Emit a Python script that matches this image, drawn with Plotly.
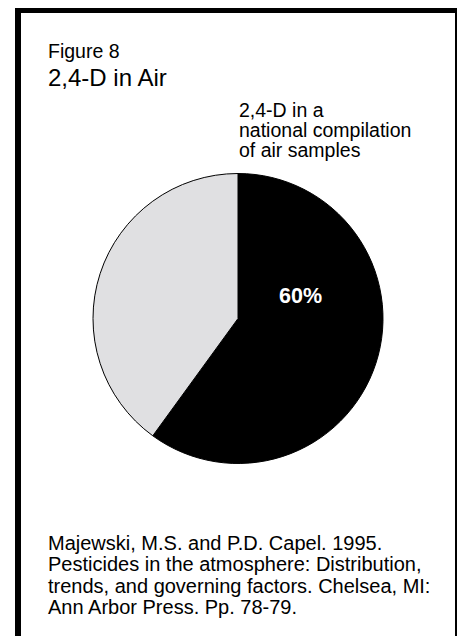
import plotly.graph_objects as go

# Share of air samples with 2,4-D detected
labels = ["2,4-D detected", "Not detected"]
values = [60, 40]
slice_colors = ["#000000", "#e0e0e2"]

fig_label = "Figure 8"
title_text = "2,4-D in Air"
subtitle_lines = ["2,4-D in a", "national compilation", "of air samples"]
citation_lines = [
    "Majewski, M.S. and P.D. Capel. 1995.",
    "Pesticides in the atmosphere: Distribution,",
    "trends, and governing factors. Chelsea, MI:",
    "Ann Arbor Press. Pp. 78-79.",
]

# the page body has an 8px margin, so the figure sits at (8, 8) in the window
OFF = 8
W, H = 465 - OFF, 636 - OFF
FONT = "Liberation Sans, Arial, Helvetica, sans-serif"


def px(x):
    return (x - OFF) / W


def py(y):
    return 1 - (y - OFF) / H


fig = go.Figure(
    go.Pie(
        labels=labels,
        values=values,
        sort=False,
        direction="clockwise",
        rotation=0,
        marker=dict(colors=slice_colors, line=dict(color="#000000", width=1)),
        textinfo="none",
        hoverinfo="label+percent",
        domain=dict(x=[px(93), px(383)], y=[py(463.5), py(173.5)]),
        showlegend=False,
    )
)

annotations = [
    dict(x=px(46), y=py(50.5), text=fig_label, font=dict(size=19.5)),
    dict(x=px(46), y=py(77), text=title_text, font=dict(size=24)),
]
for i, line in enumerate(subtitle_lines):
    annotations.append(dict(x=px(237), y=py(110 + 20 * i), text=line, font=dict(size=19.5)))
for i, line in enumerate(citation_lines):
    annotations.append(dict(x=px(46), y=py(542.5 + 21.5 * i), text=line, font=dict(size=20)))
for a in annotations:
    a.update(xref="paper", yref="paper", xanchor="left", yanchor="middle", showarrow=False)
    a["font"].update(family=FONT, color="#000000")

# percentage label on the big slice
annotations.append(
    dict(
        x=px(300.5), y=py(295.5), xref="paper", yref="paper", showarrow=False,
        text=f"<b>{values[0]}%</b>",
        font=dict(family=FONT, size=21.5, color="#ffffff"),
    )
)

fig.update_layout(
    width=W,
    height=H,
    margin=dict(l=0, r=0, t=0, b=0),
    paper_bgcolor="#ffffff",
    plot_bgcolor="#ffffff",
    annotations=annotations,
    shapes=[
        dict(
            type="rect", xref="paper", yref="paper",
            x0=px(18), x1=px(458), y0=-0.05, y1=py(10),
            line=dict(color="#000000", width=6), fillcolor="rgba(0,0,0,0)",
        )
    ],
)

fig.write_html("out.html")
